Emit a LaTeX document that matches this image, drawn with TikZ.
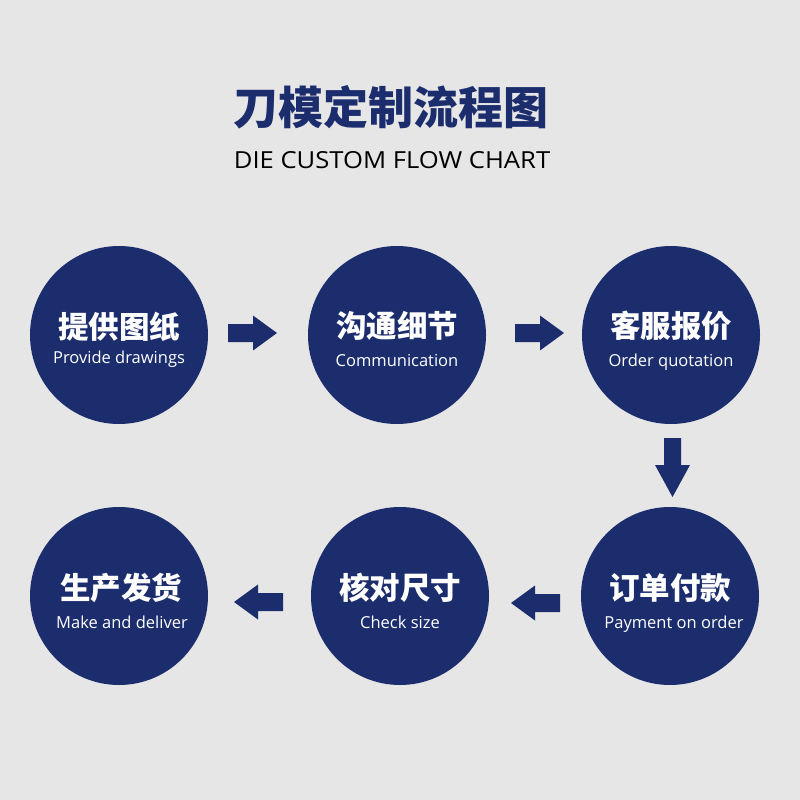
\documentclass[tikz,border=0pt]{standalone}
\usepackage{fontspec}
\setmainfont{Open Sans}
\newfontfamily\cjk{Noto Sans CJK SC}
\newfontfamily\subfont[FakeStretch=1.09]{Open Sans}
\definecolor{navy}{HTML}{1C2D6E}
\definecolor{bg}{HTML}{E6E6E6}
\tikzset{
  stepcircle/.style={circle, fill=navy, minimum size=178pt, inner sep=0pt},
  cntext/.style={text=white, font=\cjk\bfseries\fontsize{30.5}{32}\selectfont, inner sep=0pt, anchor=center},
  entext/.style={text=white, font=\fontsize{16.5}{18}\selectfont, inner sep=0pt, anchor=base},
  barrow/.pic={\fill[navy] (-25,-9) -- (0,-9) -- (0,-17.5) -- (24,0) -- (0,17.5) -- (0,9) -- (-25,9) -- cycle;}
}
\begin{document}
\begin{tikzpicture}[x=1pt,y=-1pt]
\fill[bg] (0,0) rectangle (800,800);
\useasboundingbox (0,0) rectangle (800,800);
% title
\node[text=navy, font=\cjk\bfseries\fontsize{45}{48}\selectfont, inner sep=0pt] (title) at (391,107) {刀模定制流程图};
\node[text=black, font=\subfont\fontsize{23.5}{26}\selectfont, inner sep=0pt, anchor=base] (sub) at (392,168.5) {DIE CUSTOM FLOW CHART};
% circles
\node[stepcircle] (c1) at (119,335) {};
\node[stepcircle] (c2) at (397,335) {};
\node[stepcircle] (c3) at (671,335) {};
\node[stepcircle] (c4) at (670,596) {};
\node[stepcircle] (c5) at (400,596) {};
\node[stepcircle] (c6) at (119,596) {};
% texts
\node[cntext] (t1) at (119,327) {提供图纸};
\node[entext] (e1) at (119,363) {Provide drawings};
\node[cntext] (t2) at (397,326) {沟通细节};
\node[entext] (e2) at (397,366) {Communication};
\node[cntext] (t3) at (671,326) {客服报价};
\node[entext] (e3) at (671,366) {Order quotation};
\node[cntext] (t4) at (670,588) {订单付款};
\node[entext] (e4) at (674,628) {Payment on order};
\node[cntext] (t5) at (400,588) {核对尺寸};
\node[entext] (e5) at (400,628) {Check size};
\node[cntext] (t6) at (121,588) {生产发货};
\node[entext] (e6) at (122,628) {Make and deliver};
% arrows
\coordinate (a12) at (253,333);
\coordinate (a23) at (540,333);
\coordinate (a45) at (535,603);
\coordinate (a56) at (258,602);
\pic at (a12) {barrow};
\pic at (a23) {barrow};
\pic[rotate=180] at (a45) {barrow};
\pic[rotate=180] at (a56) {barrow};
\coordinate (a34) at (672.5,465);
\fill[navy] ([shift={(-8.5,-27)}]a34) -- ([shift={(8.5,-27)}]a34) -- ([shift={(8.5,0)}]a34) -- ([shift={(17.5,0)}]a34) -- ([shift={(0,32)}]a34) -- ([shift={(-17.5,0)}]a34) -- ([shift={(-8.5,0)}]a34) -- cycle;
\end{tikzpicture}
\end{document}
